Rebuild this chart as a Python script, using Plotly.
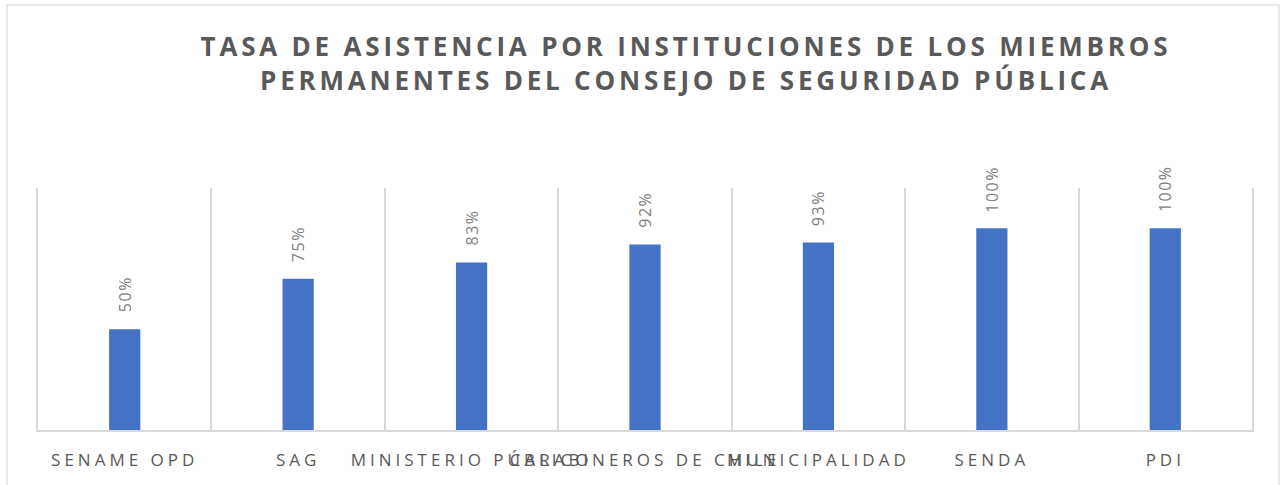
import plotly.graph_objects as go

categories = ["SENAME OPD", "SAG", "MINISTERIO PÚBLICO", "CARABINEROS DE CHILE",
              "MUNICIPALIDAD", "SENDA", "PDI"]
values = [0.50, 0.75, 0.83, 0.92, 0.93, 1.00, 1.00]
value_labels = ["50%", "75%", "83%", "92%", "93%", "100%", "100%"]
title_text = ("TASA DE ASISTENCIA POR INSTITUCIONES DE LOS MIEMBROS<br>"
              "PERMANENTES DEL CONSEJO DE SEGURIDAD PÚBLICA")

W, H = 1280, 485
ml, mr, mt, mb = 38, 28, 188, 55
pw = W - ml - mr
ph = H - mt - mb

fig = go.Figure()
fig.add_trace(go.Bar(
    x=categories, y=values,
    marker=dict(color="#4472C4", line=dict(width=0)),
    width=0.18,
    hoverinfo="skip",
))

for c, v, t in zip(categories, values, value_labels):
    fig.add_annotation(
        x=c, y=v, text=t, textangle=-90, showarrow=False,
        xanchor="center", yanchor="bottom", yshift=17,
        font=dict(family="Open Sans", size=16, color="#7f7f7f"),
    )

def px_x(p):
    return (p - ml) / pw

def px_y(p):
    return (H - mb - p) / ph

# chart border (left, top, right)
fig.add_shape(type="rect", xref="paper", yref="paper",
              x0=px_x(7), x1=px_x(1279), y0=px_y(500), y1=px_y(5),
              line=dict(color="#d9d9d9", width=1.2), fillcolor="rgba(0,0,0,0)",
              layer="below")

fig.update_layout(
    width=W, height=H,
    margin=dict(l=ml, r=mr, t=mt, b=mb, autoexpand=False),
    paper_bgcolor="white", plot_bgcolor="white",
    showlegend=False,
    title=dict(
        text=title_text,
        x=px_x(686), xref="paper", xanchor="center",
        y=1 - 56 / H, yref="container", yanchor="middle",
        font=dict(family="Open Sans", size=26, color="#595959", weight="bold"),
    ),
    xaxis=dict(
        type="category",
        tickson="boundaries", ticks="",
        tickangle=0, automargin=False,
        showgrid=True, gridcolor="#d9d9d9", gridwidth=1.5,
        showline=True, linecolor="#d9d9d9", linewidth=1.5,
        mirror=False,
        tickfont=dict(family="Open Sans", size=17, color="#595959"),
        ticklabelstandoff=14,
        range=[-0.5, len(categories) - 0.5],
        fixedrange=True,
    ),
    yaxis=dict(
        range=[0, 1.2], showgrid=False, showticklabels=False,
        zeroline=False, showline=True, mirror=True,
        linecolor="#d9d9d9", linewidth=1.5,
        ticks="", fixedrange=True, automargin=False,
    ),
    bargap=0.82,
)

post = """
document.body.style.margin = '0';
var s = document.createElement('style');
s.innerHTML = 'body{margin:0;} .gtitle{letter-spacing:3.8px;} .xtick text{letter-spacing:4px;} .annotation-text{letter-spacing:1.5px;}';
document.head.appendChild(s);
"""

fig.write_html("out.html", post_script=post, config={"displayModeBar": False})
